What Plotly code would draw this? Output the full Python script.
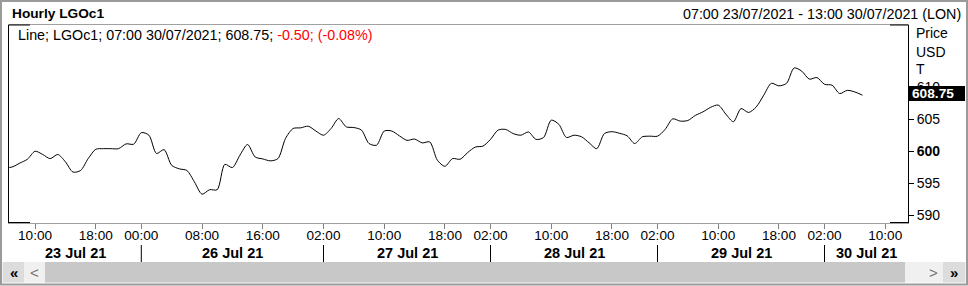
import plotly.graph_objects as go
import pandas as pd

# ---------------- data ----------------
days = ["2021-07-23", "2021-07-26", "2021-07-27", "2021-07-28", "2021-07-29", "2021-07-30"]
day_labels = ["23 Jul 21", "26 Jul 21", "27 Jul 21", "28 Jul 21", "29 Jul 21", "30 Jul 21"]
day_open_hour = [2, 0, 2, 2, 2, 2]      # first trading hour of each session
day_first_hour = [6, 0, 2, 2, 2, 2]     # first hour present in the data/view
day_last_hour = [23, 23, 23, 23, 23, 13]
view_start = "2021-07-23 07:00"
view_end = "2021-07-30 13:00"

# hourly LGOc1 prices, 06:00 23/07/2021 .. 07:00 30/07/2021 (trading hours only)
prices = [
    597.35, 597.55, 598.15, 598.75, 600.0, 599.5, 598.85, 599.5, 598.35, 596.75,
    597.0, 598.85, 600.3, 600.4, 600.4, 600.4, 601.15, 601.1,
    602.9, 602.5, 599.65, 600.25, 597.8, 597.25, 597.0, 595.2, 593.3, 594.0,
    594.0, 597.95, 597.45, 599.4, 601.05, 599.1, 598.8, 598.5, 598.85, 602.0,
    603.55, 603.65, 603.9, 603.15,
    602.5, 603.55, 605.1, 603.8, 603.7, 603.3, 601.2, 600.95, 603.15, 603.15,
    602.4, 601.7, 601.9, 601.3, 601.45, 598.6, 597.65, 598.85, 598.75, 599.8,
    600.65, 600.8,
    601.85, 603.3, 603.4, 602.75, 602.5, 603.0, 601.85, 602.15, 604.85, 604.2,
    602.15, 602.5, 602.25, 601.3, 600.4, 602.75, 603.05, 602.8, 602.4, 601.2,
    602.25, 602.35,
    602.35, 603.4, 605.05, 604.7, 604.8, 605.6, 606.15, 606.85, 607.2, 605.8,
    604.6, 606.65, 606.05, 606.9, 608.75, 610.6, 610.2, 610.6, 613.0, 612.5,
    611.25, 611.5,
    610.45, 610.3, 609.0, 609.5, 609.25, 608.75,
]
y_tick_vals = [590, 595, 600, 605, 610]
y_tick_text = ["590", "595", "<b>600</b>", "605", "610"]
last_price_text = "608.75"
legend_black = "Line; LGOc1; 07:00 30/07/2021; 608.75; "
legend_red = "-0.50; (-0.08%)"
title_text = "Hourly LGOc1"
range_text = "07:00 23/07/2021 - 13:00 30/07/2021 (LON)"
tick_step_hours = 8

# ---------------- build trading-hour index ----------------
times = []
for d, h0, h1 in zip(days, day_first_hour, day_last_hour):
    for h in range(h0, h1 + 1):
        times.append(pd.Timestamp(d) + pd.Timedelta(hours=h))
pos = {t: i for i, t in enumerate(times)}
x_data = list(range(len(prices)))

tickvals, ticktext = [], []
sep_pos = []
for k, (d, op) in enumerate(zip(days, day_open_hour)):
    for t in times:
        if t.normalize() == pd.Timestamp(d) and (t.hour - op) % tick_step_hours == 0 \
                and t >= pd.Timestamp(view_start):
            tickvals.append(pos[t])
            ticktext.append(t.strftime("%H:%M"))
    if k > 0:
        sep_pos.append(pos[pd.Timestamp(d) + pd.Timedelta(hours=op)])

x0 = pos[pd.Timestamp(view_start)] - 0.43
x1 = pos[pd.Timestamp(view_end)]

# ---------------- pixel helpers (layout) ----------------
W, H = 968, 286
L, R, T, B = 9, 908, 25, 223
def px(x):
    return (x - L) / (R - L)
def py(y):
    return (B - y) / (B - T)

FONT = "Liberation Sans, Arial, sans-serif"
FS = 14.3

fig = go.Figure()
fig.add_trace(go.Scatter(
    x=x_data, y=prices, mode="lines",
    line=dict(color="black", width=1, shape="spline", smoothing=0.8),
    hoverinfo="skip", showlegend=False, cliponaxis=True,
))

shapes = []
annotations = []

# outer border
shapes.append(dict(type="rect", xref="paper", yref="paper", x0=px(1), x1=px(967), y0=py(1), y1=py(284.5),
                   line=dict(color="#9a9a9a", width=2), fillcolor="rgba(0,0,0,0)", layer="below"))
# black corner segments of the plot frame
for (a, b, yy) in [(9, 30, 25), (9, 30, 222.5), (890, 908, 25), (890, 908, 222.5)]:
    shapes.append(dict(type="line", xref="paper", yref="paper", x0=px(a), x1=px(b), y0=py(yy), y1=py(yy),
                       line=dict(color="black", width=1), layer="above"))

# day separators and labels
bounds = [x0] + sep_pos + [x1]
for k, lab in enumerate(day_labels):
    a, b = bounds[k], bounds[k + 1]
    annotations.append(dict(xref="x", yref="paper", x=(a + b) / 2, y=py(252.5), text="<b>%s</b>" % lab,
                            showarrow=False, font=dict(family=FONT, size=14.5, color="black"),
                            xanchor="center", yanchor="middle"))
for s in sep_pos:
    shapes.append(dict(type="line", xref="x", yref="paper", x0=s, x1=s, y0=py(245), y1=py(262),
                       line=dict(color="black", width=1)))

# scrollbar
shapes.append(dict(type="rect", xref="paper", yref="paper", x0=px(2), x1=px(966), y0=py(262), y1=py(282.5),
                   line=dict(width=0), fillcolor="#f0f0f0"))
shapes.append(dict(type="rect", xref="paper", yref="paper", x0=px(45), x1=px(905), y0=py(262), y1=py(282.5),
                   line=dict(width=0), fillcolor="#c8c8c8"))
for (a, b) in [(3, 24), (943, 965)]:
    shapes.append(dict(type="rect", xref="paper", yref="paper", x0=px(a), x1=px(b), y0=py(262), y1=py(282.5),
                       line=dict(width=0), fillcolor="#dcdcdc"))
for (xx, txt, col) in [(13.5, "<b>«</b>", "black"), (34, "<", "#707070"), (933, ">", "#707070"), (954, "<b>»</b>", "black")]:
    annotations.append(dict(xref="paper", yref="paper", x=px(xx), y=py(272), text=txt, showarrow=False,
                            font=dict(family=FONT, size=15, color=col), xanchor="center", yanchor="middle"))

# last price box
shapes.append(dict(type="rect", xref="paper", yref="paper", x0=px(909), x1=px(965), y0=py(101), y1=py(86),
                   line=dict(width=0), fillcolor="black", layer="above"))
annotations.append(dict(xref="paper", yref="paper", x=px(910), y=py(93.5), text="<b>%s</b>" % last_price_text,
                        showarrow=False, font=dict(family=FONT, size=13.7, color="white"),
                        xanchor="left", yanchor="middle"))

# header texts
annotations.append(dict(xref="paper", yref="paper", x=px(10), y=py(14), text="<b>%s</b>" % title_text,
                        showarrow=False, font=dict(family=FONT, size=13.7, color="black"),
                        xanchor="left", yanchor="middle"))
annotations.append(dict(xref="paper", yref="paper", x=px(963), y=py(14), text=range_text,
                        showarrow=False, font=dict(family=FONT, size=FS, color="black"),
                        xanchor="right", yanchor="middle"))
annotations.append(dict(xref="paper", yref="paper", x=px(16), y=py(35),
                        text=legend_black + '<span style="color:#ff0000">%s</span>' % legend_red,
                        showarrow=False, font=dict(family=FONT, size=FS, color="black"),
                        xanchor="left", yanchor="middle"))
for (txt, yy) in [("Price", 33), ("USD", 51.5), ("T", 69)]:
    annotations.append(dict(xref="paper", yref="paper", x=px(914), y=py(yy), text=txt,
                            showarrow=False, font=dict(family=FONT, size=14, color="black"),
                            xanchor="left", yanchor="middle"))

fig.update_layout(
    width=W, height=H,
    margin=dict(l=L, r=W - R, t=T, b=H - B, pad=0),
    paper_bgcolor="white", plot_bgcolor="white",
    font=dict(family=FONT, size=FS, color="black"),
    showlegend=False,
    shapes=shapes, annotations=annotations,
    xaxis=dict(range=[x0, x1], tickvals=tickvals, ticktext=ticktext, showgrid=False, zeroline=False,
               ticks="outside", ticklen=5, tickcolor="#808080", tickwidth=1, ticklabelstandoff=-5,
               showline=True, linecolor="#a0a0a0", linewidth=1, mirror=True,
               tickfont=dict(family=FONT, size=13.6, color="black")),
    yaxis=dict(range=[588.8, 619.7], side="right", tickvals=y_tick_vals, ticktext=y_tick_text,
               showgrid=False, zeroline=False, ticks="outside", ticklen=5, tickcolor="black",
               showline=True, linecolor="black", linewidth=1, mirror=True,
               tickfont=dict(family=FONT, size=14, color="black")),
)

fig.write_html("out.html", config={"displayModeBar": False})
